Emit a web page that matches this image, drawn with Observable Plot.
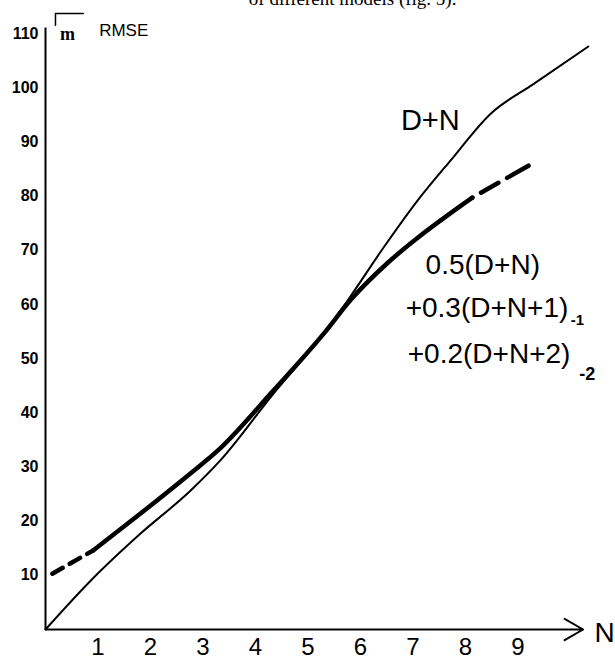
<!DOCTYPE html>
<html><head><meta charset="utf-8">
<script src="https://cdn.jsdelivr.net/npm/d3@7"></script>
<script src="https://cdn.jsdelivr.net/npm/@observablehq/plot@0.6"></script>
<style>body{margin:0;background:#fff}</style>
</head><body><div id="chart"></div>
<script>
// Tick labels
const yTicks = [10, 20, 30, 40, 50, 60, 70, 80, 90, 100, 110];
const xTicks = [1, 2, 3, 4, 5, 6, 7, 8, 9];

// Series: D+N (thin line)
const dnN    = [0, 0.86, 1.81, 2.76, 3.33, 4.34, 5.30, 5.81, 6.44, 7.09, 7.71, 8.48, 9.30, 10.34];
const dnRMSE = [0, 9.0, 17.7, 25.6, 31.2, 43.5, 54.6, 61.5, 70.5, 79.2, 86.5, 95.2, 100.7, 107.6];

// Series: 0.5(D+N)+0.3(D+N+1)_-1+0.2(D+N+2)_-2 (thick line)
const combN    = [0.91, 1.81, 2.76, 3.28, 4.34, 5.30, 5.81, 6.51, 7.09, 7.71, 8.13];
const combRMSE = [14.6, 21.4, 28.8, 33.0, 44.1, 54.6, 60.8, 67.6, 72.3, 76.8, 79.7];
// dashed extrapolations of the combined series
const combLeftN     = [0.13, 0.91];
const combLeftRMSE  = [10.3, 14.6];
const combRightN    = [8.13, 9.2];
const combRightRMSE = [79.7, 85.6];

const titleText = "of different models (fig. 5).";
const dnLabel = "D+N";
const formulaLines = ["0.5(D+N)", "+0.3(D+N+1)", "+0.2(D+N+2)"];
const formulaSubs = ["-1", "-2"];

const dn = dnN.map((n, i) => ({n, r: dnRMSE[i]}));
const comb = combN.map((n, i) => ({n, r: combRMSE[i]}));
const combL = combLeftN.map((n, i) => ({n, r: combLeftRMSE[i]}));
const combR = combRightN.map((n, i) => ({n, r: combRightRMSE[i]}));

const hand = "Liberation Sans, Arial, sans-serif";

const chart = Plot.plot({
  width: 615,
  height: 665,
  marginLeft: 45,
  marginRight: 18.75,
  marginTop: 5.9,
  marginBottom: 36,
  x: {domain: [0, 10.5]},
  y: {domain: [0, 115]},
  style: {background: "#fff", color: "#000"},
  marks: [
    Plot.axisY(yTicks, {tickSize: 0, tickPadding: 7, fontSize: 16, fontWeight: "bold", fontFamily: hand, label: null}),
    Plot.axisX(xTicks, {tickSize: 0, tickPadding: 8, fontSize: 24, fontFamily: hand, label: null}),
    Plot.ruleX([0], {y1: 0, y2: 111, stroke: "#000", strokeWidth: 2}),
    Plot.arrow([0], {x1: 0, y1: 0, x2: 10.24, y2: 0, stroke: "#000", strokeWidth: 2, headLength: 16}),
    Plot.line(dn, {x: "n", y: "r", curve: "monotone-x", stroke: "#000", strokeWidth: 2}),
    Plot.line(comb, {x: "n", y: "r", curve: "monotone-x", stroke: "#000", strokeWidth: 4.5}),
    Plot.line(combL, {x: "n", y: "r", stroke: "#000", strokeWidth: 4.5, strokeDasharray: "12,8", strokeLinecap: "round"}),
    Plot.line(combR, {x: "n", y: "r", stroke: "#000", strokeWidth: 4.5, strokeDasharray: "0,10,20,10,20", strokeLinecap: "round"}),
    // axis annotations
    Plot.text(["N"], {x: () => 10.65, y: () => -0.7, text: d => d, fontSize: 28, fontFamily: hand, textAnchor: "middle", lineAnchor: "middle"}),
    Plot.text(["RMSE"], {x: () => 1.49, y: () => 110.5, text: d => d, fontSize: 17, fontFamily: hand, textAnchor: "middle", lineAnchor: "middle"}),
    Plot.text(["m"], {x: () => 0.42, y: () => 109.9, text: d => d, fontSize: 18, fontWeight: "bold", fontFamily: "Liberation Serif, serif", textAnchor: "middle", lineAnchor: "middle"}),
    Plot.line([[0.19, 111.5], [0.19, 113.7], [0.72, 113.7]], {stroke: "#000", strokeWidth: 1.5}),
    // title (cut off at top, as in the reference)
    Plot.text([titleText], {x: () => 5.85, y: () => 115, dy: -1, text: d => d, fontSize: 19, fontFamily: "Liberation Serif, serif", textAnchor: "middle", lineAnchor: "bottom"}),
    // curve labels
    Plot.text([dnLabel], {x: () => 7.33, y: () => 93.9, text: d => d, fontSize: 29, fontFamily: hand, textAnchor: "middle", lineAnchor: "middle"}),
    Plot.text([formulaLines[0]], {x: () => 7.24, y: () => 67.2, text: d => d, fontSize: 28, fontFamily: hand, textAnchor: "start", lineAnchor: "middle"}),
    Plot.text([formulaLines[1]], {x: () => 6.86, y: () => 59.4, text: d => d, fontSize: 28, fontFamily: hand, textAnchor: "start", lineAnchor: "middle"}),
    Plot.text([formulaLines[2]], {x: () => 6.90, y: () => 50.8, text: d => d, fontSize: 28, fontFamily: hand, textAnchor: "start", lineAnchor: "middle"}),
    Plot.text([formulaSubs[0]], {x: () => 10.13, y: () => 57.0, text: d => d, fontSize: 15, fontWeight: "bold", fontFamily: hand, textAnchor: "middle", lineAnchor: "middle"}),
    Plot.text([formulaSubs[1]], {x: () => 10.32, y: () => 47.2, text: d => d, fontSize: 18, fontWeight: "bold", fontFamily: hand, textAnchor: "middle", lineAnchor: "middle"})
  ]
});
document.getElementById("chart").appendChild(chart);
</script>
</body></html>
